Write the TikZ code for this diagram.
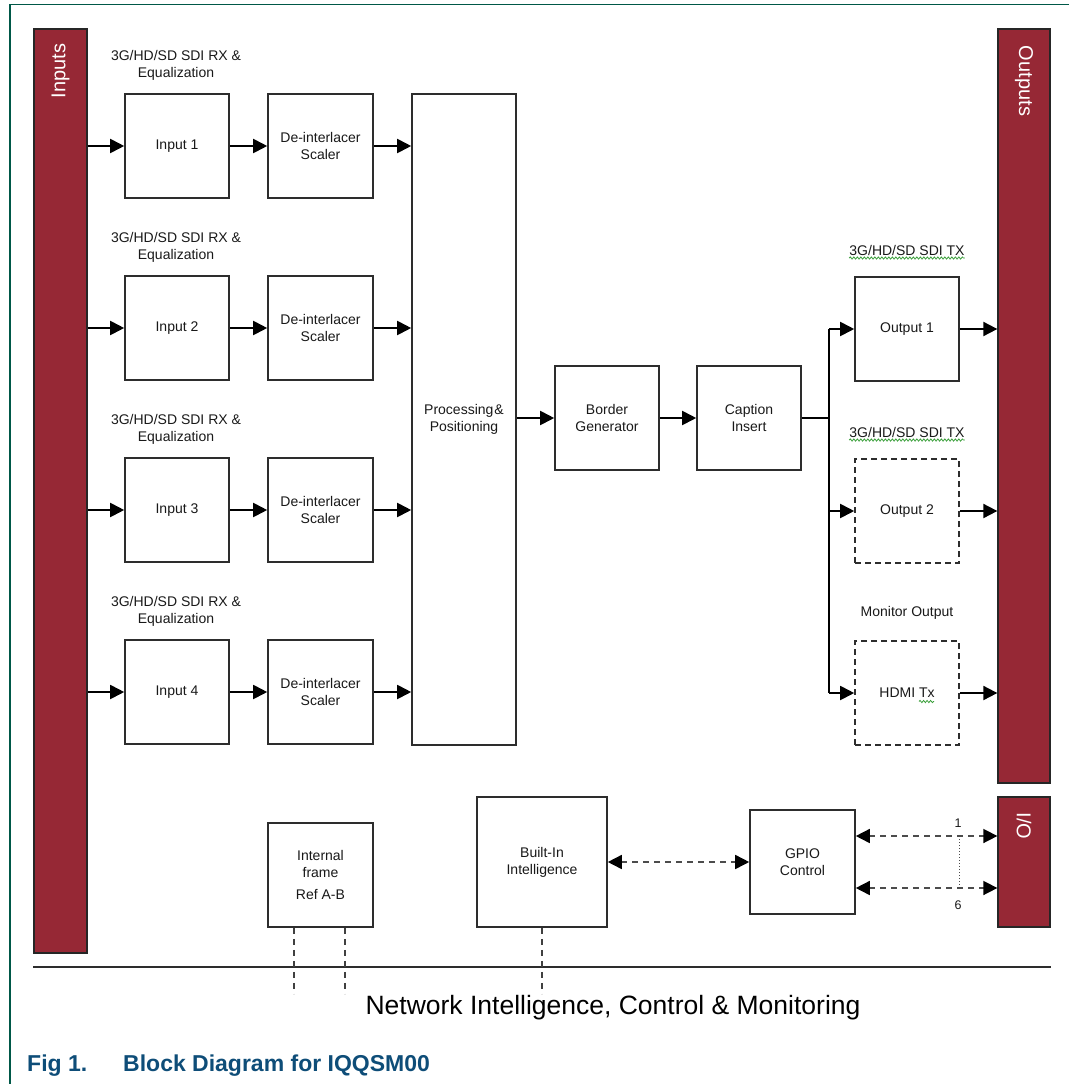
\documentclass[tikz,border=0pt]{standalone}
\usepackage{fontspec}
\setmainfont{Liberation Sans}
\usetikzlibrary{arrows.meta,decorations.pathmorphing}

\definecolor{barred}{RGB}{150,40,53}
\definecolor{framegreen}{RGB}{0,88,72}
\definecolor{capblue}{RGB}{14,77,120}
\definecolor{edge}{RGB}{45,45,45}
\definecolor{spell}{RGB}{60,160,60}

\newcommand\lblfont{\fontsize{14}{17}\selectfont}

\tikzset{
  blk/.style={draw=edge, line width=1.6pt, fill=white, inner sep=0pt,
              minimum width=104pt, minimum height=104pt, align=center,
              font=\lblfont, text=black!90},
  dblk/.style={blk, dash pattern=on 6pt off 4pt},
  bar/.style={draw=black!85, line width=1.3pt, fill=barred, inner sep=0pt},
  bartext/.style={text=white, font=\fontsize{20}{22}\selectfont, inner sep=0pt},
  caption/.style={font=\lblfont, align=center, inner sep=0pt, text=black!90},
  tip/.tip={Triangle[length=14pt,width=14pt]},
  dtip/.tip={Triangle[length=14pt,width=14pt,color=black]},
  arr/.style={line width=1.9pt, -tip},
  wire/.style={line width=1.9pt},
  darr/.style={line width=1.6pt, black!70, dash pattern=on 6pt off 5pt, dtip-dtip},
  dline/.style={line width=1.5pt, black!75, dash pattern=on 6pt off 5pt},
  squig/.style={draw=spell, line width=0.8pt, decorate,
                decoration={snake, segment length=3.5pt, amplitude=1.1pt}},
}

\begin{document}
\begin{tikzpicture}[x=1pt,y=-1pt]
\useasboundingbox (0,0) rectangle (1069,1084);

% page frame
\coordinate (ftl) at (10,4.5);
\coordinate (ftr) at (1069,4.5);
\coordinate (fbl) at (10,1084);
\draw[framegreen, line width=1.5pt] (ftr) -- (ftl) -- (fbl);

% side bars
\node[bar, minimum width=53pt, minimum height=924pt] (inbar) at (60.5,491) {};
\node[bartext, rotate=90] (intxt) at (60.5,71) {Inputs};
\node[bar, minimum width=52pt, minimum height=754pt] (outbar) at (1024,406) {};
\node[bartext, rotate=-90] (outtxt) at (1024,81) {Outputs};
\node[bar, minimum width=52pt, minimum height=130pt] (iobar) at (1024,862) {};
\node[bartext, rotate=-90] (iotxt) at (1024,826) {I/O};

% input chains
\foreach \i/\y in {1/146,2/328,3/510,4/692}{
  \node[caption] (rx\i) at (176,\y-80.5) {3G/HD/SD SDI RX \&\\Equalization};
  \node[blk] (in\i) at (177,\y) {Input \i};
  \node[blk, minimum width=105pt] (di\i) at (320.5,\y) {De-interlacer\\Scaler};
}

\node[blk, minimum height=651pt] (proc) at (464,419.5) {Processing\hspace{1pt}\&\\Positioning};
\node[blk] (border) at (607,418) {Border\\Generator};
\node[blk] (capins) at (749,418) {Caption\\Insert};

\foreach \i in {1,2,3,4}{
  \draw[arr] (inbar.east |- in\i.west) -- (in\i.west);
  \draw[arr] (in\i.east) -- (di\i.west);
  \draw[arr] (di\i.east) -- (di\i.east -| proc.west);
}
\draw[arr] (proc.east |- border.west) -- (border.west);
\draw[arr] (border.east) -- (capins.west);

% output stages
\node[caption] (txlbl1) at (907,250) {3G/HD/SD SDI TX};
\node[blk] (out1) at (907,329) {Output 1};
\node[caption] (txlbl2) at (907,432) {3G/HD/SD SDI TX};
\node[dblk] (out2) at (907,511) {Output 2};
\node[caption] (monlbl) at (907,613) {Monitor Output};
\node[dblk] (hdmi) at (907,693) {HDMI Tx};

\draw[squig] ([yshift=-3pt]txlbl1.base west) -- ([yshift=-3pt]txlbl1.base east);
\draw[squig] ([yshift=-3pt]txlbl2.base west) -- ([yshift=-3pt]txlbl2.base east);
\draw[squig] ([xshift=12pt,yshift=-8.5pt]hdmi.center) -- ([xshift=27pt,yshift=-8.5pt]hdmi.center);

% distribution bus
\coordinate (bus) at (829,418);
\draw[wire] (capins.east) -- (bus |- capins.east);
\draw[wire] (bus |- out1.west) -- (bus |- hdmi.west);
\draw[arr] (bus |- out1.west) -- (out1.west);
\draw[arr] (bus |- out2.west) -- (out2.west);
\draw[arr] (bus |- hdmi.west) -- (hdmi.west);

\draw[arr] (out1.east) -- (out1.east -| outbar.west);
\draw[arr] (out2.east) -- (out2.east -| outbar.west);
\draw[arr] (hdmi.east) -- (hdmi.east -| outbar.west);

% control section
\node[blk, minimum width=105pt] (iframe) at (320.5,875) {Internal\\frame\\[5pt]Ref A-B};
\node[blk, minimum width=130pt, minimum height=130pt] (bi) at (542,862) {Built-In\\Intelligence};
\node[blk, minimum width=105pt] (gpio) at (802.5,862) {GPIO\\Control};

\draw[darr] (bi.east) -- (gpio.west);
\draw[darr] ([yshift=26pt]gpio.east) -- ([yshift=26pt]gpio.east -| iobar.west);
\draw[darr] ([yshift=-26pt]gpio.east) -- ([yshift=-26pt]gpio.east -| iobar.west);
\coordinate (gtap) at (959,836);
\coordinate (gbot) at (959,888);
\draw[black!70, line width=1pt, dotted] (gtap) -- (gbot);
\node[font=\fontsize{12.5}{14}\selectfont, text=black!90] (pin1) at (958,823) {1};
\node[font=\fontsize{12.5}{14}\selectfont, text=black!90] (pin6) at (958,905) {6};

% network bus
\coordinate (nl) at (33,967);
\coordinate (nr) at (1051,967);
\draw[edge, line width=1.6pt] (nl) -- (nr);
\draw[dline] ([xshift=-26.5pt]iframe.south) -- ++(0,66);
\draw[dline] ([xshift=24.5pt]iframe.south) -- ++(0,66);
\draw[dline] (bi.south) -- ++(0,66);
\node[font=\fontsize{26.5}{30}\selectfont, text=black] (net) at (613,1008) {Network Intelligence, Control \& Monitoring};

% figure caption
\node[anchor=base west, inner sep=0pt, text=capblue, font=\bfseries\fontsize{23}{26}\selectfont] (fignum) at (27,1071) {Fig 1.};
\node[anchor=base west, inner sep=0pt, text=capblue, font=\bfseries\fontsize{23}{26}\selectfont] (figtitle) at (123,1071) {Block Diagram for IQQSM00};
\end{tikzpicture}
\end{document}
